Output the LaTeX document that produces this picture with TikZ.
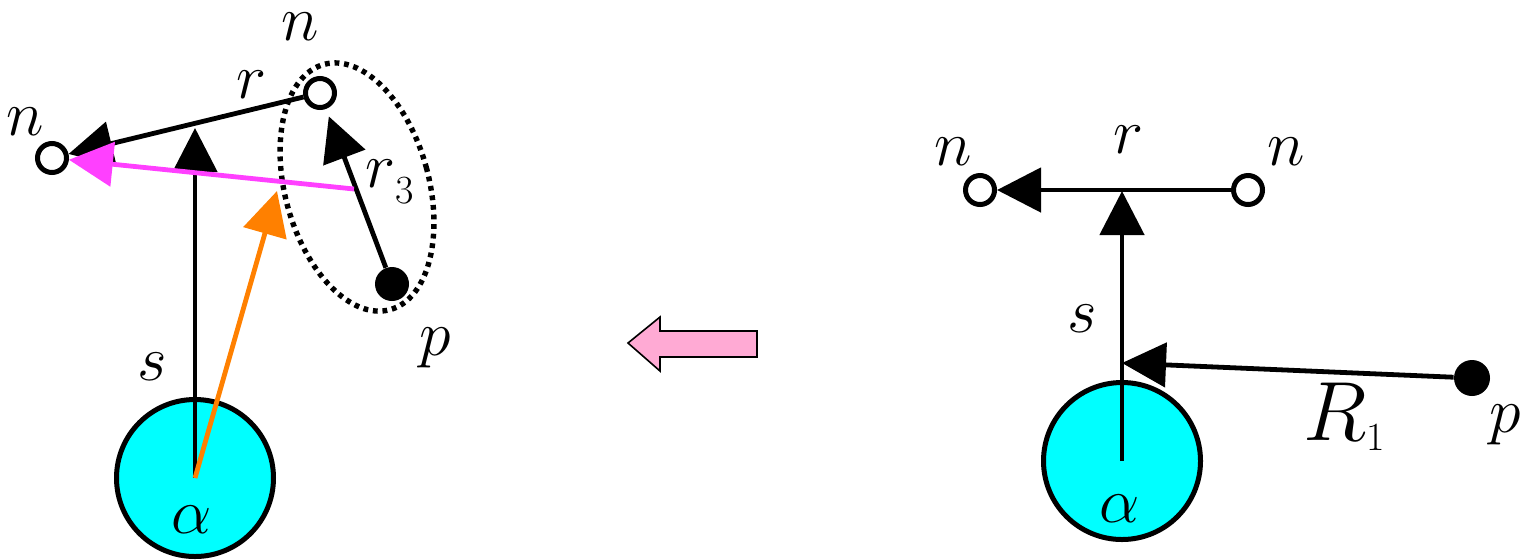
\RequirePackage{fix-cm}
\documentclass[tikz,border=0pt]{standalone}
\usetikzlibrary{arrows.meta,shapes.geometric}
\definecolor{cyanfill}{RGB}{0,255,255}
\definecolor{magline}{RGB}{255,64,255}
\definecolor{orline}{RGB}{255,128,0}
\definecolor{pinkfill}{RGB}{255,170,212}
\tikzset{
  opencirc/.style={circle,draw,line width=2.5pt,fill=white,minimum size=14.5pt,inner sep=0pt},
  fullcirc/.style={circle,fill=black,minimum size=17pt,inner sep=0pt},
  bigcirc/.style={circle,draw,line width=2.5pt,fill=cyanfill,minimum size=78.5pt,inner sep=0pt},
  vec/.style={line width=2.4pt,-{Triangle[length=22pt,width=22pt]}},
  lbl/.style={inner sep=0pt,font=\fontsize{32}{32}\selectfont},
  dotring/.style={ellipse,draw,line width=2.7pt,dash pattern=on 2.4pt off 2.4pt,minimum width=72pt,minimum height=127pt,inner sep=0pt},
}
\begin{document}
\begin{tikzpicture}[x=0.5pt,y=-0.5pt]
\useasboundingbox (0,0) rectangle (1524,559);
% ---------- left diagram ----------
\node[bigcirc] (A) at (195,478) {};
\node[dotring,rotate=15] (ring) at (357,187) {};
\node[opencirc] (nL) at (52,158) {};
\node[opencirc] (nT) at (320,93) {};
\node[fullcirc] (p) at (392,284) {};
\coordinate (sTip) at (195,128);
\coordinate (oTip) at (277,191);
\coordinate (m) at (354,189);
\draw[vec] (nT) -- (nL);
\draw[vec] (A.center) -- (sTip);
\draw[vec,shorten >=4pt] (p) -- (nT);
\draw[vec,orline] (A.center) -- (oTip);
\draw[vec,magline] (m) -- (nL);
\node[lbl,anchor=base] (lnT) at (300,40) {$n$};
\node[lbl,anchor=base] (lr) at (251,98) {$r$};
\node[lbl,anchor=base] (lnL) at (25,135) {$n$};
\node[lbl,anchor=base west] (lr3) at (365,187) {$r$\raisebox{-8pt}{\fontsize{20}{20}\selectfont 3}};
\node[lbl,anchor=base] (ls) at (152,380) {$s$};
\node[lbl,anchor=base] (lp) at (435,355) {$p$};
\node[lbl,anchor=base] (la) at (192,533) {$\alpha$};
% ---------- middle block arrow ----------
\draw[line width=0.8pt,fill=pinkfill,line join=miter]
  (628,343) -- (660,317) -- (660,331) -- (757,331) -- (757,357) -- (660,357) -- (660,371) -- cycle;
% ---------- right diagram ----------
\node[bigcirc] (A2) at (1122,461) {};
\node[opencirc] (nL2) at (980,190) {};
\node[opencirc] (nR2) at (1248,190) {};
\node[fullcirc,minimum size=18pt] (p2) at (1472,378) {};
\coordinate (sTip2) at (1122,191);
\coordinate (RTip) at (1122,363);
\draw[vec] (A2.center) -- (sTip2);
\draw[vec] (nR2) -- (nL2);
\draw[vec] (p2) -- (RTip);
\node[lbl,anchor=base] (lnL2) at (953,165) {$n$};
\node[lbl,anchor=base] (lr2) at (1128,153) {$r$};
\node[lbl,anchor=base] (lnR2) at (1286,165) {$n$};
\node[lbl,anchor=base] (ls2) at (1082,332) {$s$};
\node[lbl,anchor=base west,font=\fontsize{42}{42}\selectfont] (lR1) at (1303,440) {$R$\raisebox{-5pt}{\fontsize{20}{20}\selectfont 1}};
\node[lbl,anchor=base] (lp2) at (1505,432) {$p$};
\node[lbl,anchor=base] (la2) at (1120,522) {$\alpha$};
\end{tikzpicture}
\end{document}
